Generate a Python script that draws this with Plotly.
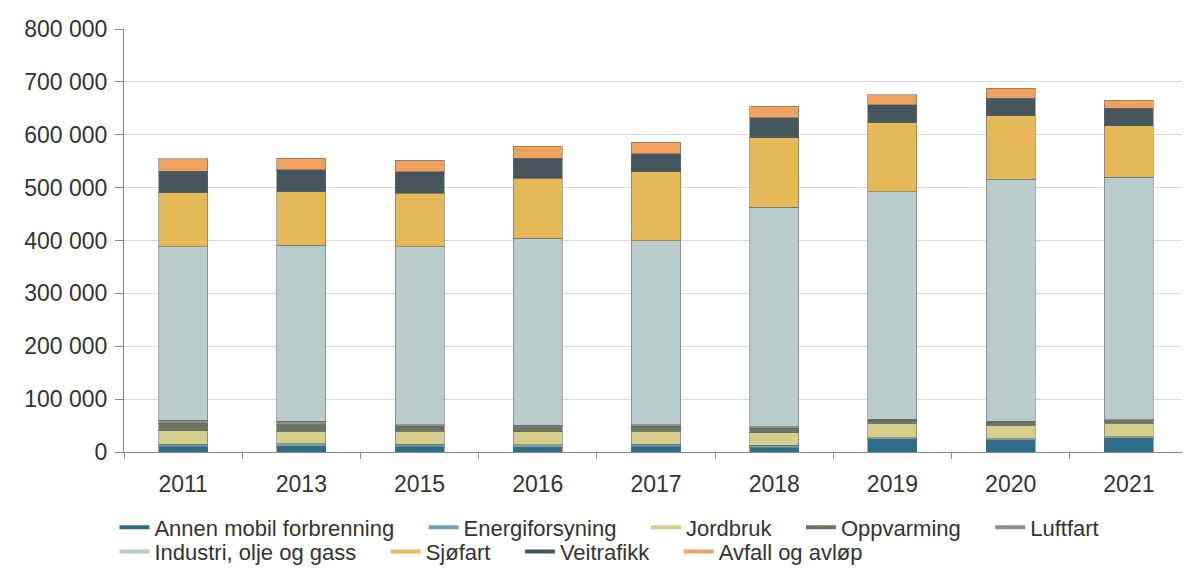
import plotly.graph_objects as go

years = ["2011", "2013", "2015", "2016", "2017", "2018", "2019", "2020", "2021"]

annen_mobil = [10000, 11000, 10000, 9000, 10000, 8000, 24000, 22000, 26000]
energiforsyning = [5000, 5000, 5000, 5000, 5000, 5000, 3000, 3000, 3000]
jordbruk = [25000, 23000, 24000, 24000, 24000, 23000, 27000, 26000, 25000]
oppvarming = [14000, 13000, 10000, 10000, 10000, 9000, 6000, 5000, 5000]
luftfart = [6000, 6000, 3000, 3000, 3000, 3000, 2000, 2000, 2000]
industri = [328000, 333000, 336000, 353000, 348000, 415000, 430000, 458000, 459000]
sjofart = [102000, 101000, 101000, 114000, 130000, 131000, 131000, 120000, 97000]
veitrafikk = [41000, 42000, 41000, 38000, 34000, 38000, 34000, 33000, 33000]
avfall = [24000, 22000, 22000, 22000, 22000, 22000, 19000, 19000, 15000]

series = [
    ("Annen mobil forbrenning", annen_mobil, "#2d6d8c", "legend"),
    ("Energiforsyning", energiforsyning, "#6aa3b6", "legend"),
    ("Jordbruk", jordbruk, "#d6cf8b", "legend"),
    ("Oppvarming", oppvarming, "#6a7562", "legend"),
    ("Luftfart", luftfart, "#8f8f86", "legend"),
    ("Industri, olje og gass", industri, "#b8cccb", "legend2"),
    ("Sjøfart", sjofart, "#e5b957", "legend2"),
    ("Veitrafikk", veitrafikk, "#45575d", "legend2"),
    ("Avfall og avløp", avfall, "#efa25e", "legend2"),
]
row_last = {"Luftfart", "Avfall og avløp"}
pad = "\u00a0" * 4

fig = go.Figure()
for name, vals, col, lg in series:
    fig.add_trace(go.Bar(
        x=years, y=vals, name=name, marker_color=col,
        marker_line=dict(color="rgba(100,100,100,0.55)", width=1),
        showlegend=False, hovertemplate="%{x}: %{y}<extra>" + name + "</extra>",
    ))
for name, vals, col, lg in series:
    fig.add_trace(go.Scatter(
        x=[None], y=[None], mode="lines",
        name=name if name in row_last else name + pad,
        line=dict(color=col, width=4), showlegend=True, legend=lg,
    ))

legend_font = dict(family="Liberation Sans, Arial, sans-serif", size=22, color="#333333")
fig.update_layout(
    barmode="stack",
    bargap=0.585,
    width=1182, height=565,
    margin=dict(l=116, r=2, t=21, b=120),
    paper_bgcolor="white", plot_bgcolor="white",
    separators=", ",
    font=dict(family="Liberation Sans, Arial, sans-serif", size=23, color="#333333"),
    legend=dict(
        orientation="h", x=-0.009, xanchor="left", y=-0.126, yanchor="top",
        traceorder="normal", font=legend_font, itemwidth=30,
        bgcolor="rgba(0,0,0,0)",
    ),
    legend2=dict(
        orientation="h", x=-0.009, xanchor="left", y=-0.183, yanchor="top",
        traceorder="normal", font=legend_font, itemwidth=30,
        bgcolor="rgba(0,0,0,0)",
    ),
)
fig.update_xaxes(
    type="category", showline=True, linecolor="#888888", linewidth=1,
    ticks="outside", tickson="boundaries", ticklen=6, tickcolor="#888888",
    showgrid=False, tickfont=dict(size=23, color="#333333"),
    ticklabelstandoff=11, automargin=False,
)
fig.update_yaxes(
    range=[0, 800000], dtick=100000, tickformat=",d",
    showline=True, linecolor="#888888", linewidth=1,
    ticks="outside", ticklen=8, tickcolor="#888888",
    showgrid=True, gridcolor="#d9d9d9", gridwidth=1, zeroline=False,
    tickfont=dict(size=23, color="#333333"), automargin=False,
    ticklabelstandoff=3,
)

fig.write_html("out.html")
